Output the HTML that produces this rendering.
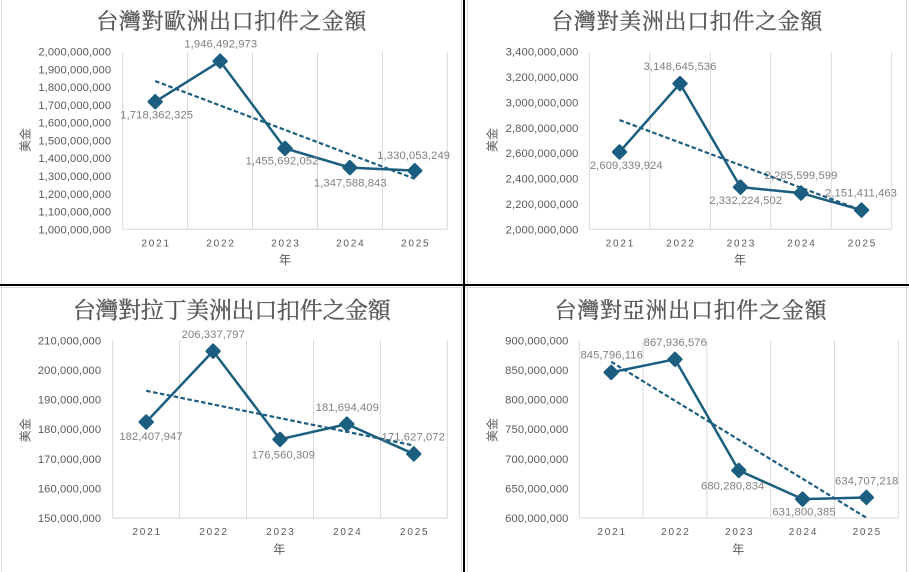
<!DOCTYPE html>
<html><head><meta charset="utf-8"><style>
html,body{margin:0;padding:0;background:#fff;}
svg{display:block;}
.yl{font-family:"Liberation Sans",sans-serif;font-size:11.2px;letter-spacing:0.1px;fill:#595959;text-anchor:end;}
.dl{font-family:"Liberation Sans",sans-serif;font-size:11.2px;letter-spacing:0.1px;fill:#7f7f7f;text-anchor:middle;}
.xl{font-family:"Liberation Sans",sans-serif;font-size:10px;letter-spacing:1.8px;fill:#595959;text-anchor:middle;}
.at{font-family:"Liberation Sans","Noto Sans CJK TC",sans-serif;font-size:12px;fill:#595959;text-anchor:middle;}
.tt{font-family:"Liberation Serif","Noto Serif CJK TC",serif;font-size:22px;fill:#595959;text-anchor:middle;stroke:#595959;stroke-width:0.35;}
.g{stroke:#d9d9d9;stroke-width:1;fill:none;}
.ln{stroke:#1b5e80;stroke-width:2.5;fill:none;stroke-linejoin:round;}
.tr{stroke:#1b5e80;stroke-width:2.2;fill:none;stroke-dasharray:4.5 2.5;}
.mk{fill:#1b5e80;stroke:#1b5e80;stroke-width:2.4;stroke-linejoin:round;}
</style></head><body>
<svg width="909" height="572" viewBox="0 0 909 572" xmlns="http://www.w3.org/2000/svg">
<rect x="0" y="0" width="909" height="572" fill="#fff"/>
<line class="g" x1="1.5" y1="0" x2="1.5" y2="572"/>
<line class="g" x1="461.5" y1="0" x2="461.5" y2="572"/>
<line class="g" x1="467.5" y1="0" x2="467.5" y2="572"/>
<line class="g" x1="906.5" y1="0" x2="906.5" y2="572"/>
<line class="g" x1="0" y1="287.5" x2="909" y2="287.5"/>
<rect x="0" y="284" width="909" height="2" fill="#000"/>
<rect x="463" y="0" width="2" height="572" fill="#000"/>

<!-- ===== Panel 1 ===== -->
<text class="tt" x="231.3" y="29.2" textLength="270" lengthAdjust="spacing">台灣對歐洲出口扣件之金額</text>
<g>
<line class="g" x1="122.7" y1="51.7" x2="122.7" y2="229.3"/>
<line class="g" x1="187.6" y1="51.7" x2="187.6" y2="229.3"/>
<line class="g" x1="252.5" y1="51.7" x2="252.5" y2="229.3"/>
<line class="g" x1="317.5" y1="51.7" x2="317.5" y2="229.3"/>
<line class="g" x1="382.4" y1="51.7" x2="382.4" y2="229.3"/>
<line class="g" x1="447.3" y1="51.7" x2="447.3" y2="229.3"/>
<line class="g" x1="122.7" y1="229.3" x2="447.3" y2="229.3"/>
</g>
<g>
<text class="yl" x="111.2" y="233.3">1,000,000,000</text>
<text class="yl" x="111.2" y="215.5">1,100,000,000</text>
<text class="yl" x="111.2" y="197.8">1,200,000,000</text>
<text class="yl" x="111.2" y="180.0">1,300,000,000</text>
<text class="yl" x="111.2" y="162.2">1,400,000,000</text>
<text class="yl" x="111.2" y="144.5">1,500,000,000</text>
<text class="yl" x="111.2" y="126.7">1,600,000,000</text>
<text class="yl" x="111.2" y="109.0">1,700,000,000</text>
<text class="yl" x="111.2" y="91.2">1,800,000,000</text>
<text class="yl" x="111.2" y="73.4">1,900,000,000</text>
<text class="yl" x="111.2" y="55.7">2,000,000,000</text>
</g>
<g>
<text class="xl" x="156.1" y="246.3">2021</text>
<text class="xl" x="221.0" y="246.3">2022</text>
<text class="xl" x="285.9" y="246.3">2023</text>
<text class="xl" x="350.8" y="246.3">2024</text>
<text class="xl" x="415.7" y="246.3">2025</text>
</g>
<text class="at" x="285" y="263.9">年</text>
<text class="at" transform="translate(25,140) rotate(-90)" x="0" y="4.6">美金</text>
<polyline class="tr" points="155.2,81.05 414.8,178.77"/>
<polyline class="ln" points="155.2,101.72 220.1,61.20 285.0,148.37 349.9,167.57 414.8,170.68"/>
<g>
<path class="mk" d="M155.2,95.2 L161.7,101.72 L155.2,108.2 L148.7,101.72 Z"/>
<path class="mk" d="M220.1,54.7 L226.6,61.2 L220.1,67.7 L213.6,61.2 Z"/>
<path class="mk" d="M285.0,141.9 L291.5,148.37 L285.0,154.9 L278.5,148.37 Z"/>
<path class="mk" d="M349.9,161.1 L356.4,167.57 L349.9,174.1 L343.4,167.57 Z"/>
<path class="mk" d="M414.8,164.2 L421.3,170.68 L414.8,177.2 L408.3,170.68 Z"/>
</g>
<g>
<text class="dl" x="156.7" y="118.3">1,718,362,325</text>
<text class="dl" x="220.8" y="47.3">1,946,492,973</text>
<text class="dl" x="282" y="164.3">1,455,692,052</text>
<text class="dl" x="350.3" y="186.3">1,347,588,843</text>
<text class="dl" x="413.7" y="159.0">1,330,053,249</text>
</g>

<!-- ===== Panel 2 ===== -->
<text class="tt" x="686.8" y="29.2" textLength="271" lengthAdjust="spacing">台灣對美洲出口扣件之金額</text>
<g>
<line class="g" x1="589.3" y1="51.7" x2="589.3" y2="229.3"/>
<line class="g" x1="649.8" y1="51.7" x2="649.8" y2="229.3"/>
<line class="g" x1="710.3" y1="51.7" x2="710.3" y2="229.3"/>
<line class="g" x1="770.7" y1="51.7" x2="770.7" y2="229.3"/>
<line class="g" x1="831.2" y1="51.7" x2="831.2" y2="229.3"/>
<line class="g" x1="891.7" y1="51.7" x2="891.7" y2="229.3"/>
<line class="g" x1="589.3" y1="229.3" x2="891.7" y2="229.3"/>
</g>
<g>
<text class="yl" x="578.5" y="233.3">2,000,000,000</text>
<text class="yl" x="578.5" y="207.9">2,200,000,000</text>
<text class="yl" x="578.5" y="182.6">2,400,000,000</text>
<text class="yl" x="578.5" y="157.2">2,600,000,000</text>
<text class="yl" x="578.5" y="131.8">2,800,000,000</text>
<text class="yl" x="578.5" y="106.5">3,000,000,000</text>
<text class="yl" x="578.5" y="81.1">3,200,000,000</text>
<text class="yl" x="578.5" y="55.7">3,400,000,000</text>
</g>
<g>
<text class="xl" x="620.4" y="246.3">2021</text>
<text class="xl" x="680.9" y="246.3">2022</text>
<text class="xl" x="741.4" y="246.3">2023</text>
<text class="xl" x="801.9" y="246.3">2024</text>
<text class="xl" x="862.4" y="246.3">2025</text>
</g>
<text class="at" x="740" y="263.9">年</text>
<text class="at" transform="translate(491.7,140) rotate(-90)" x="0" y="4.6">美金</text>
<polyline class="tr" points="619.5,120.05 861.5,210.31"/>
<polyline class="ln" points="619.5,152.0 680.0,83.58 740.5,187.15 801.0,193.07 861.5,210.09"/>
<g>
<path class="mk" d="M619.5,145.5 L626,152.0 L619.5,158.5 L613,152.0 Z"/>
<path class="mk" d="M680.0,77.1 L686.5,83.58 L680.0,90.1 L673.5,83.58 Z"/>
<path class="mk" d="M740.5,180.65 L747,187.15 L740.5,193.65 L734,187.15 Z"/>
<path class="mk" d="M801.0,186.57 L807.5,193.07 L801.0,199.57 L794.5,193.07 Z"/>
<path class="mk" d="M861.5,203.59 L868,210.09 L861.5,216.59 L855,210.09 Z"/>
</g>
<g>
<text class="dl" x="626.3" y="169.0">2,609,339,924</text>
<text class="dl" x="680" y="70.0">3,148,645,536</text>
<text class="dl" x="745.7" y="204.0">2,332,224,502</text>
<text class="dl" x="801" y="179.0">2,285,599,599</text>
<text class="dl" x="861" y="196.3">2,151,411,463</text>
</g>

<!-- ===== Panel 3 ===== -->
<text class="tt" x="231.7" y="318" textLength="318" lengthAdjust="spacing" style="font-size:23px">台灣對拉丁美洲出口扣件之金額</text>
<g>
<line class="g" x1="112.7" y1="340.3" x2="112.7" y2="518"/>
<line class="g" x1="179.6" y1="340.3" x2="179.6" y2="518"/>
<line class="g" x1="246.5" y1="340.3" x2="246.5" y2="518"/>
<line class="g" x1="313.5" y1="340.3" x2="313.5" y2="518"/>
<line class="g" x1="380.4" y1="340.3" x2="380.4" y2="518"/>
<line class="g" x1="447.3" y1="340.3" x2="447.3" y2="518"/>
<line class="g" x1="112.7" y1="518" x2="447.3" y2="518"/>
</g>
<g>
<text class="yl" x="101.2" y="522.0">150,000,000</text>
<text class="yl" x="101.2" y="492.4">160,000,000</text>
<text class="yl" x="101.2" y="462.8">170,000,000</text>
<text class="yl" x="101.2" y="433.1">180,000,000</text>
<text class="yl" x="101.2" y="403.5">190,000,000</text>
<text class="yl" x="101.2" y="373.9">200,000,000</text>
<text class="yl" x="101.2" y="344.3">210,000,000</text>
</g>
<g>
<text class="xl" x="147.1" y="534.9">2021</text>
<text class="xl" x="214.0" y="534.9">2022</text>
<text class="xl" x="280.9" y="534.9">2023</text>
<text class="xl" x="347.8" y="534.9">2024</text>
<text class="xl" x="414.7" y="534.9">2025</text>
</g>
<text class="at" x="279.3" y="553.3">年</text>
<text class="at" transform="translate(25,430.3) rotate(-90)" x="0" y="4.6">美金</text>
<polyline class="tr" points="146.2,390.74 413.8,445.5"/>
<polyline class="ln" points="146.2,422.02 213.1,351.14 280.0,439.34 346.9,424.13 413.8,453.95"/>
<g>
<path class="mk" d="M146.2,415.52 L152.7,422.02 L146.2,428.52 L139.7,422.02 Z"/>
<path class="mk" d="M213.1,344.64 L219.6,351.14 L213.1,357.64 L206.6,351.14 Z"/>
<path class="mk" d="M280.0,432.84 L286.5,439.34 L280.0,445.84 L273.5,439.34 Z"/>
<path class="mk" d="M346.9,417.63 L353.4,424.13 L346.9,430.63 L340.4,424.13 Z"/>
<path class="mk" d="M413.8,447.45 L420.3,453.95 L413.8,460.45 L407.3,453.95 Z"/>
</g>
<g>
<text class="dl" x="151" y="440.0">182,407,947</text>
<text class="dl" x="213.3" y="338.0">206,337,797</text>
<text class="dl" x="283.3" y="458.3">176,560,309</text>
<text class="dl" x="347.3" y="411.0">181,694,409</text>
<text class="dl" x="413.3" y="440.3">171,627,072</text>
</g>

<!-- ===== Panel 4 ===== -->
<text class="tt" x="690.5" y="318" textLength="272" lengthAdjust="spacing">台灣對亞洲出口扣件之金額</text>
<g>
<line class="g" x1="579.3" y1="340.3" x2="579.3" y2="518"/>
<line class="g" x1="643.1" y1="340.3" x2="643.1" y2="518"/>
<line class="g" x1="706.9" y1="340.3" x2="706.9" y2="518"/>
<line class="g" x1="770.7" y1="340.3" x2="770.7" y2="518"/>
<line class="g" x1="834.5" y1="340.3" x2="834.5" y2="518"/>
<line class="g" x1="898.3" y1="340.3" x2="898.3" y2="518"/>
<line class="g" x1="579.3" y1="518" x2="898.3" y2="518"/>
</g>
<g>
<text class="yl" x="568.5" y="522.0">600,000,000</text>
<text class="yl" x="568.5" y="492.4">650,000,000</text>
<text class="yl" x="568.5" y="462.8">700,000,000</text>
<text class="yl" x="568.5" y="433.1">750,000,000</text>
<text class="yl" x="568.5" y="403.5">800,000,000</text>
<text class="yl" x="568.5" y="373.9">850,000,000</text>
<text class="yl" x="568.5" y="344.3">900,000,000</text>
</g>
<g>
<text class="xl" x="612.1" y="534.9">2021</text>
<text class="xl" x="675.9" y="534.9">2022</text>
<text class="xl" x="739.7" y="534.9">2023</text>
<text class="xl" x="803.5" y="534.9">2024</text>
<text class="xl" x="867.3" y="534.9">2025</text>
</g>
<text class="at" x="738.3" y="553.3">年</text>
<text class="at" transform="translate(491.7,430) rotate(-90)" x="0" y="4.6">美金</text>
<polyline class="tr" points="611.2,361.76 866.4,517.75"/>
<polyline class="ln" points="611.2,372.41 675.0,359.29 738.8,470.45 802.6,499.16 866.4,497.44"/>
<g>
<path class="mk" d="M611.2,365.91 L617.7,372.41 L611.2,378.91 L604.7,372.41 Z"/>
<path class="mk" d="M675.0,352.79 L681.5,359.29 L675.0,365.79 L668.5,359.29 Z"/>
<path class="mk" d="M738.8,463.95 L745.3,470.45 L738.8,476.95 L732.3,470.45 Z"/>
<path class="mk" d="M802.6,492.66 L809.1,499.16 L802.6,505.66 L796.1,499.16 Z"/>
<path class="mk" d="M866.4,490.94 L872.9,497.44 L866.4,503.94 L859.9,497.44 Z"/>
</g>
<g>
<text class="dl" x="611.7" y="358.7">845,796,116</text>
<text class="dl" x="675.3" y="346.0">867,936,576</text>
<text class="dl" x="732.7" y="489.3">680,280,834</text>
<text class="dl" x="804" y="515.3">631,800,385</text>
<text class="dl" x="866.7" y="484.3">634,707,218</text>
</g>
</svg>
</body></html>
